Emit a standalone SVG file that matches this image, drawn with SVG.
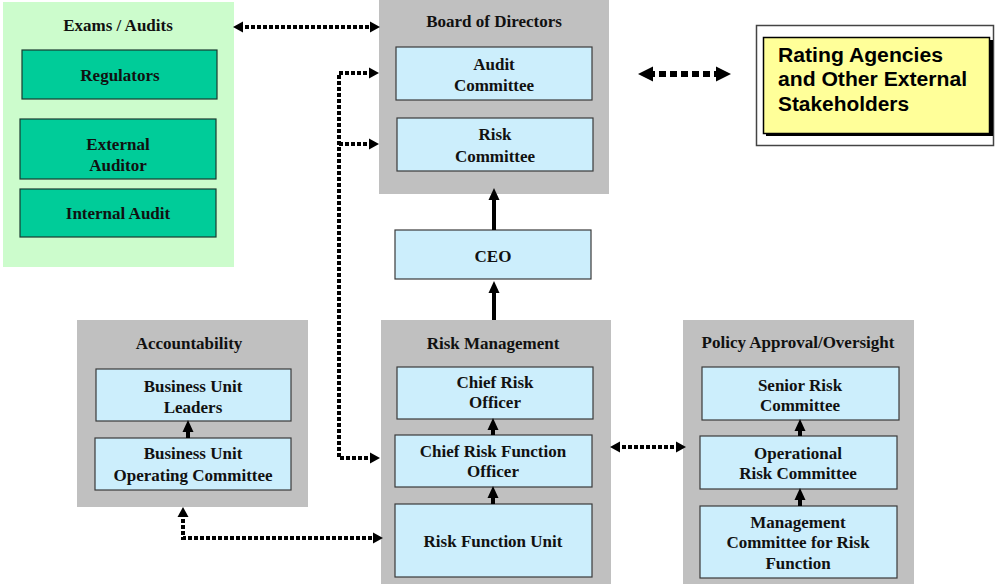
<svg xmlns="http://www.w3.org/2000/svg" width="997" height="584" viewBox="0 0 997 584">
<style>
.panel{fill:#c0c0c0;stroke:none}
.box{fill:#cceefc;stroke:#3a3a3a;stroke-width:1.2}
.gbox{fill:#00cc99;stroke:#1a3a30;stroke-width:1.2}
.t{font-family:"Liberation Serif","Times New Roman",serif;font-weight:bold;font-size:17px;fill:#111;text-anchor:middle}
.s{font-family:"Liberation Sans",Arial,sans-serif;font-weight:bold;font-size:20px;fill:#000}
.dot{fill:none;stroke:#000;stroke-width:4;stroke-dasharray:4 2}
.dotb{fill:none;stroke:#000;stroke-width:6;stroke-dasharray:7 4}
.sol{fill:none;stroke:#000;stroke-width:4}
</style>
<defs>
<marker id="ah" markerUnits="userSpaceOnUse" markerWidth="12" markerHeight="12" refX="4" refY="6" orient="auto-start-reverse"><path d="M0,0.5 L10,6 L0,11.5 Z" fill="#000"/></marker>
<marker id="ahb" markerUnits="userSpaceOnUse" markerWidth="16" markerHeight="16" refX="5" refY="8" orient="auto-start-reverse"><path d="M0,0.5 L15,8 L0,15.5 Z" fill="#000"/></marker>
<marker id="as" markerUnits="userSpaceOnUse" markerWidth="12" markerHeight="14" refX="4" refY="6" orient="auto"><path d="M0,0.5 L12,6 L0,11.5 Z" fill="#000"/></marker>
</defs>

<g id="exams">
<rect x="3" y="2" width="231" height="265" fill="#ccfccc"/>
<text class="t" x="118" y="31">Exams / Audits</text>
<g id="regulators"><rect class="gbox" x="22" y="50" width="195" height="49"/><text class="t" x="120" y="81">Regulators</text></g>
<g id="external-auditor"><rect class="gbox" x="20" y="119" width="196" height="60"/><text class="t" x="118" y="150">External</text><text class="t" x="118" y="171">Auditor</text></g>
<g id="internal-audit"><rect class="gbox" x="20" y="189" width="196" height="48"/><text class="t" x="118" y="219">Internal Audit</text></g>
</g>

<g id="board">
<rect class="panel" x="379" y="0" width="230" height="194"/>
<text class="t" x="494" y="27">Board of Directors</text>
<g id="audit-committee"><rect class="box" x="396" y="47" width="196" height="53"/><text class="t" x="494" y="70">Audit</text><text class="t" x="494" y="91">Committee</text></g>
<g id="risk-committee"><rect class="box" x="397" y="118" width="196" height="53"/><text class="t" x="495" y="140">Risk</text><text class="t" x="495" y="162">Committee</text></g>
</g>

<g id="ceo"><rect class="box" x="395" y="230" width="196" height="49"/><text class="t" x="493" y="262">CEO</text></g>

<g id="rating">
<rect x="756.5" y="25.5" width="237" height="120" fill="#fff" stroke="#444" stroke-width="1.5"/>
<rect x="766" y="40" width="227" height="96" fill="#000"/>
<rect x="763.5" y="37.5" width="226" height="96" fill="#ffff99" stroke="#000" stroke-width="1.5"/>
<text class="s" x="778" y="62" textLength="165" lengthAdjust="spacingAndGlyphs">Rating Agencies</text>
<text class="s" x="778" y="86" textLength="189" lengthAdjust="spacingAndGlyphs">and Other External</text>
<text class="s" x="778" y="111" textLength="131" lengthAdjust="spacingAndGlyphs">Stakeholders</text>
</g>

<g id="accountability">
<rect class="panel" x="77" y="320" width="231" height="187"/>
<text class="t" x="189" y="349">Accountability</text>
<g id="bu-leaders"><rect class="box" x="96" y="369" width="195" height="52"/><text class="t" x="193" y="392">Business Unit</text><text class="t" x="193" y="413">Leaders</text></g>
<g id="bu-operating"><rect class="box" x="95" y="438" width="196" height="52"/><text class="t" x="193" y="459">Business Unit</text><text class="t" x="193" y="481">Operating Committee</text></g>
</g>

<g id="risk-management">
<rect class="panel" x="381" y="320" width="230" height="264"/>
<text class="t" x="493" y="349">Risk Management</text>
<g id="cro"><rect class="box" x="397" y="367" width="196" height="52"/><text class="t" x="495" y="388">Chief Risk</text><text class="t" x="495" y="408">Officer</text></g>
<g id="crfo"><rect class="box" x="395" y="435" width="197" height="52"/><text class="t" x="493" y="457">Chief Risk Function</text><text class="t" x="493" y="477">Officer</text></g>
<g id="rfu"><rect class="box" x="395" y="504" width="197" height="73"/><text class="t" x="493" y="547">Risk Function Unit</text></g>
</g>

<g id="policy">
<rect class="panel" x="683" y="320" width="231" height="264"/>
<text class="t" x="798" y="348">Policy Approval/Oversight</text>
<g id="senior-risk"><rect class="box" x="702" y="367" width="197" height="53"/><text class="t" x="800" y="391">Senior Risk</text><text class="t" x="800" y="411">Committee</text></g>
<g id="operational-risk"><rect class="box" x="700" y="436" width="197" height="53"/><text class="t" x="798" y="459">Operational</text><text class="t" x="798" y="479">Risk Committee</text></g>
<g id="mgmt-committee"><rect class="box" x="700" y="506" width="197" height="72"/><text class="t" x="798" y="528">Management</text><text class="t" x="798" y="548">Committee for Risk</text><text class="t" x="798" y="569">Function</text></g>
</g>

<g id="connectors">
<line class="dot" x1="239" y1="27" x2="374" y2="27" marker-start="url(#ah)" marker-end="url(#ah)"/>
<path class="dot" d="M373,73 H339 V458 H374" marker-start="url(#ah)" marker-end="url(#ah)"/>
<line class="dot" x1="339" y1="144" x2="373" y2="144" marker-end="url(#ah)"/>
<line class="dotb" x1="648" y1="74" x2="721" y2="74" marker-start="url(#ahb)" marker-end="url(#ahb)"/>
<line class="dot" x1="616" y1="447" x2="680" y2="447" marker-start="url(#ah)" marker-end="url(#ah)"/>
<path class="dot" d="M183,513 V538 H377" marker-start="url(#ah)" marker-end="url(#ah)"/>
<line class="sol" x1="494" y1="230" x2="494" y2="196" marker-end="url(#as)"/>
<line class="sol" x1="494" y1="320" x2="494" y2="289" marker-end="url(#as)"/>
<line class="sol" x1="188" y1="438" x2="188" y2="428" marker-end="url(#as)"/>
<line class="sol" x1="493" y1="435" x2="493" y2="426" marker-end="url(#as)"/>
<line class="sol" x1="493" y1="504" x2="493" y2="494" marker-end="url(#as)"/>
<line class="sol" x1="800" y1="436" x2="800" y2="427" marker-end="url(#as)"/>
<line class="sol" x1="800" y1="506" x2="800" y2="496" marker-end="url(#as)"/>
</g>
</svg>
